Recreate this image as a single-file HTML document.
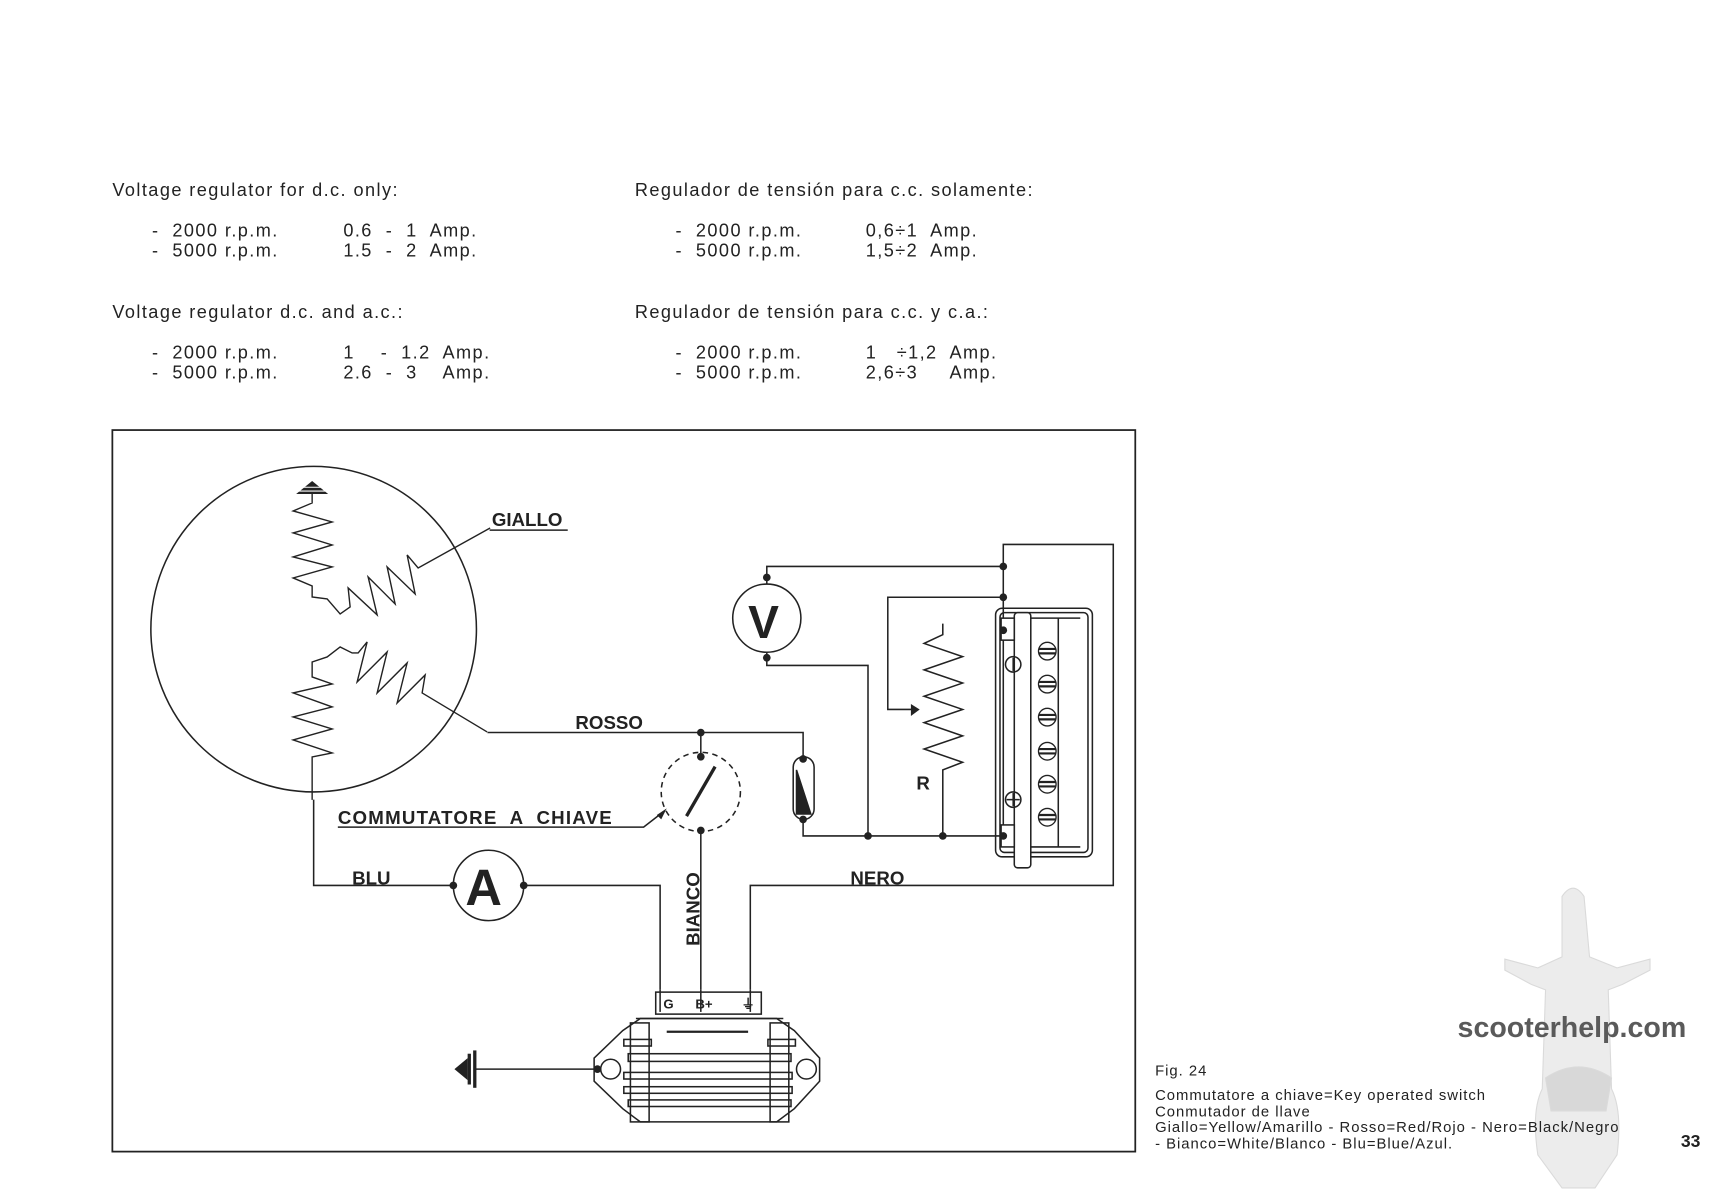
<!DOCTYPE html>
<html><head><meta charset="utf-8"><style>
html,body{margin:0;padding:0;background:#fff;}
svg{display:block}
text{font-family:"Liberation Sans",sans-serif;fill:#222;white-space:pre}
</style></head><body>
<svg width="1725" height="1200" viewBox="0 0 1568 1091" xmlns="http://www.w3.org/2000/svg" xml:space="preserve">
<rect width="1568" height="1091" fill="#fff"/>
<g font-size="16.5" fill="#333" letter-spacing="1.3">
<text x="102" y="178">Voltage regulator for d.c. only:</text>
<text x="138" y="215">-  2000 r.p.m.</text><text x="312" y="215">0.6  -  1  Amp.</text>
<text x="138" y="233">-  5000 r.p.m.</text><text x="312" y="233">1.5  -  2  Amp.</text>
<text x="102" y="289">Voltage regulator d.c. and a.c.:</text>
<text x="138" y="326">-  2000 r.p.m.</text><text x="312" y="326">1    -  1.2  Amp.</text>
<text x="138" y="344">-  5000 r.p.m.</text><text x="312" y="344">2.6  -  3    Amp.</text>
<text x="577" y="178">Regulador de tensión para c.c. solamente:</text>
<text x="614" y="215">-  2000 r.p.m.</text><text x="787" y="215">0,6÷1  Amp.</text>
<text x="614" y="233">-  5000 r.p.m.</text><text x="787" y="233">1,5÷2  Amp.</text>
<text x="577" y="289">Regulador de tensión para c.c. y c.a.:</text>
<text x="614" y="326">-  2000 r.p.m.</text><text x="787" y="326">1   ÷1,2  Amp.</text>
<text x="614" y="344">-  5000 r.p.m.</text><text x="787" y="344">2,6÷3     Amp.</text>
</g>

<g fill="#ececec" stroke="#dadada" stroke-width="1">
<path d="M1420,815 Q1430,800 1440,815 L1445,870 L1470,880 L1500,872 L1500,882 L1475,895 L1462,900 L1465,990 Q1475,1010 1470,1050 L1450,1080 L1420,1080 L1398,1050 Q1392,1010 1402,990 L1405,900 L1392,895 L1368,882 L1368,872 L1398,880 L1420,870 Z"/>
<path d="M1405,980 Q1435,960 1465,980 L1460,1010 L1410,1010 Z" fill="#d8d8d8"/>
</g>
<text x="1325" y="943" font-size="26" font-weight="bold" letter-spacing="0" style="fill:#5a5a5a">scooterhelp.com</text>
<g font-size="13.5" fill="#222" letter-spacing="0.9">
<text x="1050" y="978">Fig. 24</text>
<text x="1050" y="1000">Commutatore a chiave=Key operated switch</text>
<text x="1050" y="1015">Conmutador de llave</text>
<text x="1050" y="1029">Giallo=Yellow/Amarillo - Rosso=Red/Rojo - Nero=Black/Negro</text>
<text x="1050" y="1044">- Bianco=White/Blanco - Blu=Blue/Azul.</text>
</g>
<text x="1528" y="1043" font-size="16" font-weight="bold">33</text>

<g fill="none" stroke="#222" stroke-width="1.4">
<rect x="102" y="391" width="930" height="656" stroke-width="1.6"/>
<circle cx="285" cy="572" r="148"/>
<g transform="scale(0.90909)">
<polyline points="312,493 312,503 293,511 332,522 293,533 332,545 293,557 332,567 293,578 312,586 312,597 327,599 340,614 350,607 348,588 377,615 368,577 395,604 387,567 415,594 407,555 418,568 490,528"/>
<polyline points="312,800 312,757 332,753 293,740 332,729 293,717 332,707 293,693 332,684 312,677 312,662 327,657 340,647 352,653 358,653 367,642 357,682 387,652 377,693 407,663 397,703 425,675 422,693 487,732"/>
<path d="M312,481 L328,494 L296,494 Z" fill="#222" stroke="none"/>
</g>
<line x1="270" y1="443" x2="300" y2="443" stroke="#fff" stroke-width="1"/>
<line x1="270" y1="446.5" x2="300" y2="446.5" stroke="#fff" stroke-width="1"/>
<polyline points="445,482 516,482"/>
<polyline points="443,666 730,666 730,690"/>
<polyline points="285,727 285,805 412,805"/>
<polyline points="476,805 600,805 600,900"/>
<polyline points="682,900 682,805 1012,805 1012,495 912,495 912,760"/>
<circle cx="637" cy="720" r="36" stroke-dasharray="5,4"/>
<line x1="637" y1="666" x2="637" y2="688"/>
<line x1="624" y1="742" x2="650" y2="697" stroke-width="3"/>
<line x1="637" y1="755" x2="637" y2="900"/>
<polyline points="307,752 585,752 603,738"/>
<rect x="721" y="688" width="19" height="57" rx="9.5"/>
<path d="M724,700 L737,740 L724,740 Z" fill="#222"/>
<polyline points="730,745 730,760 912,760"/>
<circle cx="697" cy="562" r="31"/>
<polyline points="697,531 697,515 912,515"/>
<polyline points="697,593 697,605 789,605 789,760"/>
<polyline points="912,543 807,543 807,645 830,645"/>
<polyline points="857,567 857,577 840,585 875,597 840,609 875,621 840,633 875,645 840,657 875,669 840,681 875,693 857,700 857,760"/>
<circle cx="444" cy="805" r="32"/>
<rect x="905" y="553" width="88" height="226" rx="6"/>
<rect x="909" y="557" width="80" height="218" rx="4"/>
<rect x="922" y="557" width="15" height="232" rx="3" fill="#fff"/>
<line x1="937" y1="562" x2="982" y2="562"/>
<line x1="962" y1="562" x2="962" y2="770"/>
<line x1="937" y1="770" x2="982" y2="770"/>
<rect x="910" y="562" width="12" height="20" fill="#fff"/>
<rect x="910" y="750" width="12" height="20" fill="#fff"/>
<circle cx="921" cy="604" r="7"/><line x1="921" y1="598" x2="921" y2="610"/>
<circle cx="921" cy="727" r="7"/><line x1="915" y1="727" x2="927" y2="727"/><line x1="921" y1="721" x2="921" y2="733"/>
<polyline points="600,900 600,920"/><polyline points="637,900 637,920"/><polyline points="682,900 682,920"/>
<rect x="596" y="902" width="96" height="20"/>
<path d="M582,926 L706,926 L722,937 L745,962 L745,983 L722,1008 L706,1020 L582,1020 L566,1008 L540,983 L540,962 L566,937 Z"/>
<line x1="578" y1="926" x2="712" y2="926"/>
<line x1="606" y1="938" x2="680" y2="938" stroke-width="2"/>
<rect x="573" y="930" width="17" height="90"/><rect x="700" y="930" width="17" height="90"/>
<rect x="571" y="958" width="148" height="7"/>
<rect x="567" y="975" width="153" height="6"/>
<rect x="567" y="988" width="153" height="6"/>
<rect x="571" y="1000" width="148" height="6"/>
<rect x="567" y="945" width="25" height="6"/><rect x="698" y="945" width="25" height="6"/>
<circle cx="555" cy="972" r="9"/><circle cx="733" cy="972" r="9"/>
<line x1="432" y1="972" x2="540" y2="972"/>
</g>
<g fill="#222">
<path d="M413,972 L425,962 L425,982 Z"/>
<rect x="425" y="958" width="3" height="28"/><rect x="430" y="955" width="3" height="34"/>
</g>
<g fill="#222">
<circle cx="637" cy="666" r="3.5"/><circle cx="637" cy="688" r="3.5"/><circle cx="637" cy="755" r="3.5"/>
<circle cx="730" cy="690" r="3.5"/><circle cx="730" cy="745" r="3.5"/>
<circle cx="789" cy="760" r="3.5"/><circle cx="857" cy="760" r="3.5"/><circle cx="912" cy="760" r="3.5"/>
<circle cx="912" cy="515" r="3.5"/><circle cx="912" cy="543" r="3.5"/><circle cx="912" cy="573" r="3.5"/>
<circle cx="697" cy="525" r="3.5"/><circle cx="697" cy="598" r="3.5"/>
<circle cx="412" cy="805" r="3.5"/><circle cx="476" cy="805" r="3.5"/><circle cx="543" cy="972" r="3.5"/>
<path d="M828,640 L836,645 L828,651 Z"/>
<path d="M597,741 L606,735 L601,745 Z"/>
</g>
<g stroke="#222" stroke-width="1.2" fill="#fff">
<circle cx="952" cy="592" r="8"/><circle cx="952" cy="622" r="8"/><circle cx="952" cy="652" r="8"/>
<circle cx="952" cy="683" r="8"/><circle cx="952" cy="713" r="8"/><circle cx="952" cy="743" r="8"/>
</g>
<g stroke="#222" stroke-width="2">
<line x1="944" y1="590" x2="960" y2="590"/><line x1="944" y1="594" x2="960" y2="594"/>
<line x1="944" y1="620" x2="960" y2="620"/><line x1="944" y1="624" x2="960" y2="624"/>
<line x1="944" y1="650" x2="960" y2="650"/><line x1="944" y1="654" x2="960" y2="654"/>
<line x1="944" y1="681" x2="960" y2="681"/><line x1="944" y1="685" x2="960" y2="685"/>
<line x1="944" y1="711" x2="960" y2="711"/><line x1="944" y1="715" x2="960" y2="715"/>
<line x1="944" y1="741" x2="960" y2="741"/><line x1="944" y1="745" x2="960" y2="745"/>
</g>
<g font-weight="bold" font-size="17">
<text x="447" y="478">GIALLO</text>
<text x="523" y="663">ROSSO</text>
<text x="307" y="749" textLength="249" lengthAdjust="spacing">COMMUTATORE  A  CHIAVE</text>
<text x="320" y="804">BLU</text>
<text x="773" y="804">NERO</text>
<text x="833" y="718">R</text>
<text transform="translate(636,860) rotate(-90)">BIANCO</text>
<text x="680" y="580" font-size="42" font-weight="bold">V</text>
<text x="423" y="823" font-size="46">A</text>
<text x="603" y="917" font-size="12">G</text>
<text x="632" y="917" font-size="12">B+</text>
<text x="674" y="917" font-size="12">⏚</text>
</g>
</svg>
</body></html>
